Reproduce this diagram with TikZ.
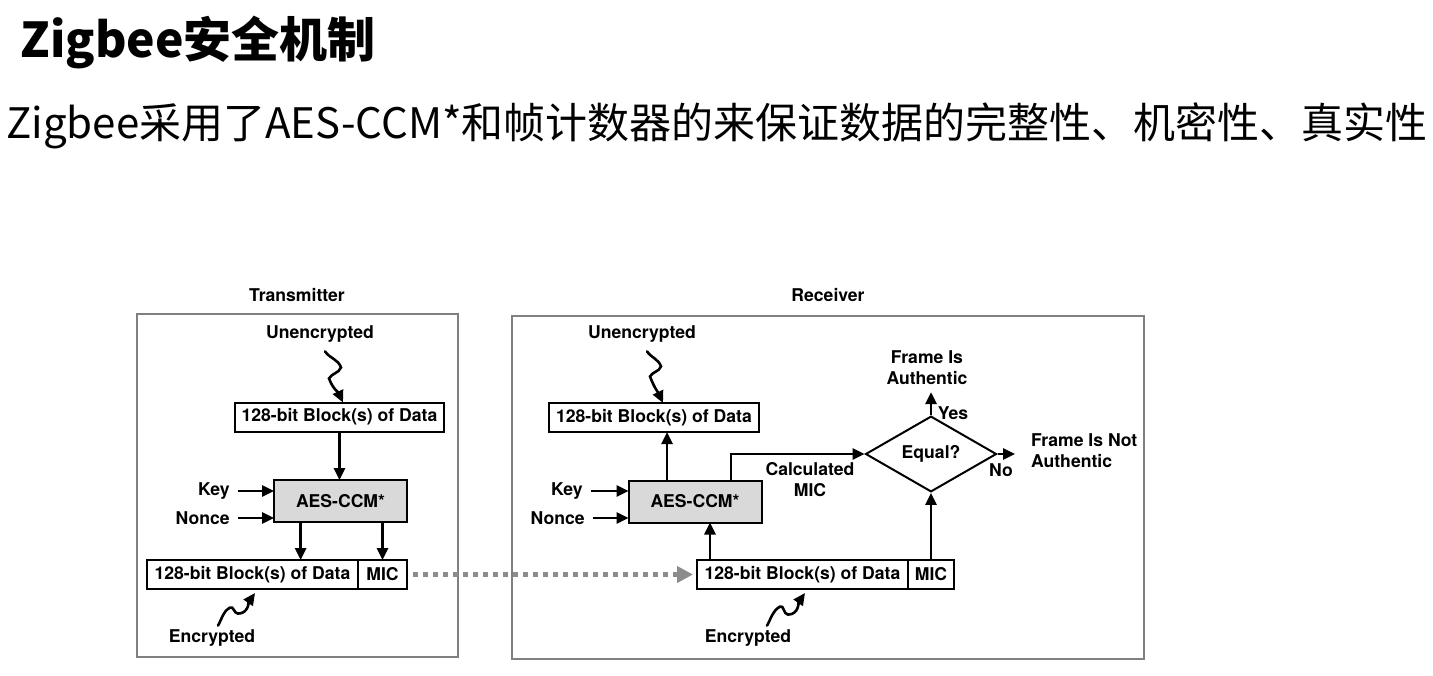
\documentclass[tikz,border=0pt]{standalone}
\usepackage{fontspec}
\setmainfont{TeX Gyre Heros}
\newfontfamily\cjk{Noto Sans CJK SC}
\usetikzlibrary{
  	positioning,
  	arrows.meta,
  	shapes.geometric,
  	calc
  }
\tikzstyle{frame}=[draw=black!50,line width=1.3pt,outer sep=0pt]
\tikzstyle{blk}=[draw,line width=1pt,outer sep=0pt,inner sep=0pt,minimum height=14.5pt]
\tikzstyle{aes}=[blk,fill=black!15,minimum width=66.5pt,minimum height=21pt]
\tikzstyle{lbl}=[inner sep=2pt]
\tikzstyle{arr}=[-{Triangle[length=6pt,width=5.5pt]},line width=1.3pt]
\tikzstyle{squig}=[arr,line width=1.3pt,line cap=round]
\tikzstyle{dots}=[draw=black!45,line width=2.5pt,dash pattern=on 2.5pt off 2.5pt,-{Triangle[length=8pt,width=8pt]}]

\begin{document}
\begin{tikzpicture}[x=0.5pt,y=-0.5pt,font=\fontsize{8.8}{10.5}\selectfont\bfseries]
  \useasboundingbox (0,0) rectangle (1433,675);
  \node[anchor=base west,inner sep=0pt,font=\cjk\bfseries\fontsize{24}{28}\selectfont] (title) at (20,57) {Zigbee安全机制};
  \node[anchor=base west,inner sep=0pt,font=\cjk\fontsize{21}{25}\selectfont] (sub) at (6,138) {Zigbee采用了AES-CCM*和帧计数器的来保证数据的完整性、机密性、真实性};
%
  \node[frame,minimum width=160.5pt,minimum height=171.5pt] (tx) at (297.5,485.5) {};
  \node (txname) at (297,295) {Transmitter};
  \node (txu) at (320,334) {Unencrypted};
  \node[blk,minimum width=104.5pt] (txin) at (339.5,417) {128-bit Block(s) of Data};
  \node[aes] (txaes) at (340.5,501) {AES-CCM*};
  \node[lbl,anchor=east] (txkey) at (234,491) {Key};
  \node[lbl,anchor=east] (txnonce) at (234,518) {Nonce};
  \node[blk,minimum width=105.5pt] (txout) at (252.5,574.5) {128-bit Block(s) of Data};
  \node[blk,minimum width=24.5pt,right=0pt of txout] (txmic) {MIC};
  \node (txenc) at (212,638) {Encrypted};
  \draw[squig] ($(txu.south)+(5,2)$) to[out=-55,in=110] ++(16,16) to[out=-110,in=60] ++(-12,11) to[out=-70,in=115] ($(txin.north)+(3.5,0)$);
  \draw[arr] (txin.south) -- (txin.south |- txaes.north);
  \draw[arr,shorten <=2pt] (txkey.east) -- (txkey.east -| txaes.west);
  \draw[arr,shorten <=2pt] (txnonce.east) -- (txnonce.east -| txaes.west);
  \coordinate (txd) at ($(txaes.south west)!.2!(txaes.south east)$);
  \draw[arr] (txd) -- (txd |- txout.north);
  \draw[arr] (txaes.south -| txmic) -- (txmic.north);
  \draw[squig] ($(txenc.north)+(6,3)$) to[out=60,in=210] ++(12,-18) to[out=30,in=180] ++(8,6) to[out=0,in=235] ($(txout.south)+(2.5,4)$);
%
  \node[frame,minimum width=316pt,minimum height=171.5pt] (rx) at (828,487.5) {};
  \node (rxname) at (828,295) {Receiver};
  \node (rxu) at (642,334) {Unencrypted};
  \node[blk,minimum width=105pt] (rxin) at (654,417.5) {128-bit Block(s) of Data};
  \node[aes] (rxaes) at (695,501.5) {AES-CCM*};
  \node[lbl,anchor=east] (rxkey) at (587,491) {Key};
  \node[lbl,anchor=east] (rxnonce) at (589,518) {Nonce};
  \node[blk,minimum width=105.5pt] (rxout) at (802.5,574.5) {128-bit Block(s) of Data};
  \node[blk,minimum width=23pt,right=0pt of rxout] (rxmic) {MIC};
  \node (rxenc) at (748,638) {Encrypted};
  \node[diamond,draw,line width=1pt,minimum width=65.5pt,minimum height=31.5pt,inner sep=0pt] (eq) at (931,454) {Equal?};
  \node[align=center] (calc) at (810,480) {Calculated\\MIC};
  \node[align=center] (auth) at (927,368) {Frame Is\\Authentic};
  \node (yes) at (953,413) {Yes};
  \node (no) at (1001,470) {No};
  \node[align=left,anchor=west] (notauth) at (1024,450.5) {Frame Is Not\\Authentic};
  \draw[squig] ($(rxu.south)+(5,2)$) to[out=-55,in=110] ++(14,15) to[out=-110,in=60] ++(-11,10) to[out=-70,in=115] ($(rxin.north)+(9,0)$);
  \coordinate (rxa) at ($(rxaes.north west)!.29!(rxaes.north east)$);
  \draw[arr] (rxa) -- (rxa |- rxin.south);
  \draw[arr,shorten <=2pt] (rxkey.east) -- (rxkey.east -| rxaes.west);
  \draw[arr,shorten <=2pt] (rxnonce.east) -- (rxnonce.east -| rxaes.west);
  \coordinate (rxb) at ($(rxout.north west)+(13,0)$);
  \draw[arr] (rxb) -- (rxb |- rxaes.south);
  \coordinate (rxm) at ($(rxaes.north west)!.77!(rxaes.north east)$);
  \draw[arr] (rxm) |- (eq.west);
  \draw[arr] (eq.north) -- (eq.north |- auth.south);
  \draw[arr,shorten >=4.5pt] (eq.east) -- (eq.east -| notauth.west);
  \draw[arr] (rxmic.north) -- (rxmic.north |- eq.south);
  \draw[squig] ($(rxenc.north)+(19,3)$) to[out=60,in=210] ++(13,-19) to[out=30,in=180] ++(8,8) to[out=0,in=235] ($(rxout.south)+(2.5,4)$);
%
  \draw[dots,shorten <=3pt,shorten >=2pt] (txmic.east) -- (rxout.west);
\end{tikzpicture}
\end{document}
